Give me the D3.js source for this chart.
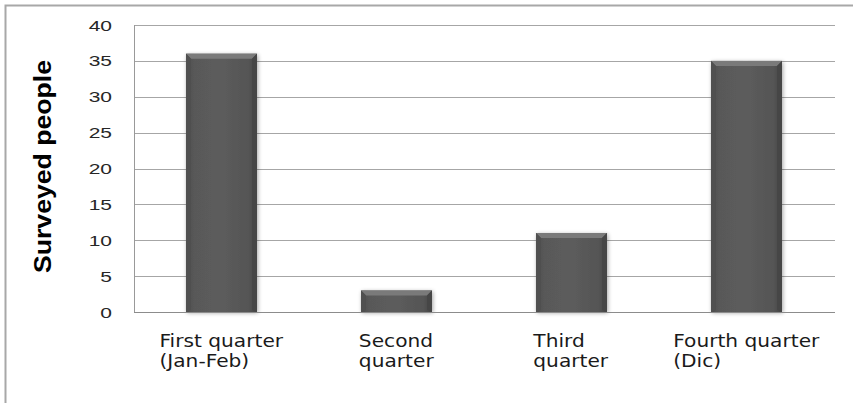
<!DOCTYPE html>
<html>
<head>
<meta charset="utf-8">
<script src="https://cdn.jsdelivr.net/npm/d3@7"></script>
<style>
  body { margin: 0; background: #fff; }
  svg { display: block; }
</style>
</head>
<body>
<div id="chart"></div>
<script>
// data
var categories = ["First quarter (Jan-Feb)", "Second quarter", "Third quarter", "Fourth quarter (Dic)"];
var labelLines = [["First quarter", "(Jan-Feb)"], ["Second", "quarter"], ["Third", "quarter"], ["Fourth quarter", "(Dic)"]];
var surveyed = [36, 3, 11, 35];
var yTicks = [0, 5, 10, 15, 20, 25, 30, 35, 40];
var yTitle = "Surveyed people";

var W = 853, H = 403;
var plot = {left: 134, right: 834, top: 25, bottom: 312};

var svg = d3.select("#chart").append("svg")
    .attr("width", W)
    .attr("height", H);

// shadow for the bars
var defs = svg.append("defs");
var f = defs.append("filter").attr("id", "shadow")
    .attr("x", "-20%").attr("y", "-20%").attr("width", "140%").attr("height", "140%");
f.append("feGaussianBlur").attr("in", "SourceAlpha").attr("stdDeviation", 2.2).attr("result", "b");
f.append("feOffset").attr("dx", 1).attr("dy", 1).attr("result", "o");
f.append("feComponentTransfer").append("feFuncA").attr("type", "linear").attr("slope", 0.35);
var m = f.append("feMerge");
m.append("feMergeNode");
m.append("feMergeNode").attr("in", "SourceGraphic");

var g1 = defs.append("linearGradient").attr("id", "barFill")
    .attr("x1", "0").attr("x2", "1").attr("y1", "0").attr("y2", "0");
g1.append("stop").attr("offset", "0%").attr("stop-color", "#4a4a4a");
g1.append("stop").attr("offset", "12%").attr("stop-color", "#595959");
g1.append("stop").attr("offset", "50%").attr("stop-color", "#5c5c5c");
g1.append("stop").attr("offset", "88%").attr("stop-color", "#555");
g1.append("stop").attr("offset", "100%").attr("stop-color", "#444");

// outer frame (right and bottom run off the page)
svg.append("rect")
    .attr("x", 5.5).attr("y", 5.5)
    .attr("width", W + 20).attr("height", H + 20)
    .attr("fill", "none")
    .attr("stroke", "#a8a8a8")
    .attr("stroke-width", 2);

var x = d3.scaleBand()
    .domain(categories)
    .range([plot.left, plot.right])
    .paddingInner(0.594)
    .paddingOuter(0.297);

var y = d3.scaleLinear()
    .domain([0, 40])
    .range([plot.bottom, plot.top]);

// gridlines
svg.append("g")
    .attr("class", "grid")
    .attr("transform", "translate(" + plot.left + ",0)")
    .call(d3.axisLeft(y).tickValues(yTicks).tickSize(-(plot.right - plot.left + 1)).tickFormat(""))
    .call(function(g) { g.select(".domain").remove(); })
    .selectAll("line")
      .attr("stroke", "#a6a6a6")
      .attr("shape-rendering", "crispEdges");

// plot left edge
svg.append("line")
    .attr("x1", plot.left + 0.5).attr("x2", plot.left + 0.5)
    .attr("y1", y(40)).attr("y2", y(0))
    .attr("stroke", "#999");

// y tick labels
svg.append("g")
    .attr("transform", "translate(" + plot.left + ",0)")
    .call(d3.axisLeft(y).tickValues(yTicks).tickSize(0))
    .call(function(g) { g.select(".domain").remove(); })
    .selectAll("text")
      .attr("x", 0)
      .attr("dy", "0.36em")
      .attr("transform", "translate(-22,0) scale(1.5,1)")
      .attr("text-anchor", "end")
      .style("font-family", "'Liberation Sans', Arial, sans-serif")
      .style("font-size", "14px")
      .attr("fill", "#262626");

// bars
var bars = svg.append("g").selectAll("g.bar")
    .data(surveyed)
    .enter().append("g")
      .attr("class", "bar");

bars.append("rect")
    .attr("x", function(d, i) { return x(categories[i]); })
    .attr("y", function(d) { return y(d); })
    .attr("width", x.bandwidth())
    .attr("height", function(d) { return y(0) - y(d); })
    .attr("fill", "url(#barFill)")
    .attr("filter", "url(#shadow)");

var bev = 5;
// top bevel
bars.append("path")
    .attr("d", function(d, i) {
      var x0 = x(categories[i]), x1 = x0 + x.bandwidth(), t = y(d);
      return "M" + x0 + "," + t + "L" + x1 + "," + t + "L" + (x1 - bev) + "," + (t + bev) + "L" + (x0 + bev) + "," + (t + bev) + "Z";
    })
    .attr("fill", "#7a7a7a");
// left bevel
bars.append("path")
    .attr("d", function(d, i) {
      var x0 = x(categories[i]), t = y(d), b = y(0);
      return "M" + x0 + "," + t + "L" + (x0 + bev) + "," + (t + bev) + "L" + (x0 + bev) + "," + (b - 2) + "L" + x0 + "," + b + "Z";
    })
    .attr("fill", "#505050");
// right bevel
bars.append("path")
    .attr("d", function(d, i) {
      var x1 = x(categories[i]) + x.bandwidth(), t = y(d), b = y(0);
      return "M" + x1 + "," + t + "L" + (x1 - bev) + "," + (t + bev) + "L" + (x1 - bev) + "," + (b - 2) + "L" + x1 + "," + b + "Z";
    })
    .attr("fill", "#464646");

// base line
svg.append("line")
    .attr("x1", plot.left).attr("x2", plot.right + 1)
    .attr("y1", y(0) + 0.5).attr("y2", y(0) + 0.5)
    .attr("stroke", "#8c8c8c");

// category labels: lines left aligned, block centred under the bar
var lab = svg.append("g").selectAll("g.lab")
    .data(labelLines)
    .enter().append("g")
      .attr("class", "lab");

lab.each(function(lines, i) {
  var g = d3.select(this);
  var s = 1.09;
  var t = g.append("text")
      .style("font-family", "'DejaVu Sans', Verdana, sans-serif")
      .style("font-size", "18.5px")
      .attr("fill", "#1a1a1a");
  lines.forEach(function(l, k) {
    t.append("tspan").attr("x", 0).attr("y", k * 20).text(l);
  });
  var w = t.node().getBBox().width * s;
  var cx = x(categories[i]) + x.bandwidth() / 2;
  g.attr("transform", "translate(" + (cx - w / 2) + ",347) scale(" + s + ",1)");
});

// y axis title
svg.append("text")
    .attr("transform", "translate(50.5," + ((60 + 273) / 2) + ") scale(1.12,1) rotate(-90)")
    .attr("text-anchor", "middle")
    .attr("textLength", 213)
    .attr("lengthAdjust", "spacingAndGlyphs")
    .style("font-family", "'Liberation Sans', Arial, sans-serif")
    .style("font-weight", "bold")
    .style("font-size", "22px")
    .attr("fill", "#000")
    .text(yTitle);
</script>
</body>
</html>
